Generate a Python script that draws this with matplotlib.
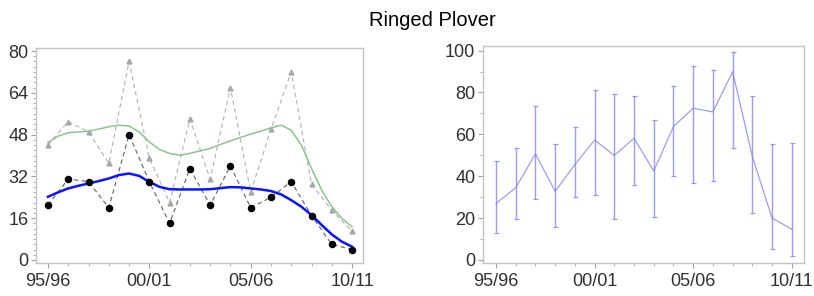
import matplotlib
matplotlib.use("Agg")
import matplotlib.pyplot as plt
from matplotlib.ticker import MultipleLocator, FixedLocator
import numpy as np

plt.rcParams['font.family'] = ['Liberation Sans', 'DejaVu Sans']

title = "Ringed Plover"
seasons = ["95/96", "96/97", "97/98", "98/99", "99/00", "00/01", "01/02", "02/03",
           "03/04", "04/05", "05/06", "06/07", "07/08", "08/09", "09/10", "10/11"]
tick_idx = [0, 5, 10, 15]

# Left panel: two count series (points) and their smoothed trends
counts_a = [21, 31, 30, 20, 48, 30, 14, 35, 21, 36, 20, 24, 30, 17, 6, 4]
counts_b = [44, 53, 49, 37, 76, 39, 22, 54, 31, 66, 26, 50, 72, 29, 19, 11]
smooth_pos = [i / 2 for i in range(31)]
smooth_b = [45.0, 47.4, 48.7, 49.0, 49.3, 50.1, 51.0, 51.6, 51.3, 49.0, 45.2, 42.3,
            40.8, 40.1, 40.8, 41.8, 42.7, 44.2, 45.6, 46.9, 48.2, 49.3, 50.6, 51.6,
            49.7, 44.0, 35.0, 26.8, 20.4, 15.9, 12.7]
smooth_a = [24.2, 25.9, 27.4, 28.4, 29.3, 30.2, 31.2, 32.5, 33.1, 32.2, 29.9, 28.0,
            27.1, 27.0, 27.0, 27.0, 27.1, 27.5, 27.9, 27.8, 27.4, 27.0, 26.4, 25.1,
            22.9, 20.4, 17.2, 13.4, 9.8, 7.0, 5.1]

# Right panel: index with confidence limits
index_mean = [27, 34.5, 50.7, 32.8, 45.6, 57.3, 49.9, 58.1, 42.5, 63.7, 72.5, 70.7,
              89.9, 49.5, 20, 14.7]
index_hi = [47.2, 53.3, 73.6, 55.2, 63.7, 81.1, 79.2, 78.1, 66.9, 82.9, 92.8, 90.9,
            99.5, 78.1, 55.2, 56]
index_lo = [12.8, 19.5, 29.1, 15.7, 30.1, 31.2, 19.5, 35.8, 20.5, 40, 36.8, 37.6,
            53.3, 22.4, 5.1, 1.9]

fig = plt.figure(figsize=(8.14, 2.96), dpi=100)
ax1 = fig.add_axes([36/814, 1-263/296, 327/814, 215/296])
ax2 = fig.add_axes([483/814, 1-262.5/296, 321/814, 216.5/296])

x = np.arange(len(seasons))
frame_col = '#c4c4c4'
txt_col = '#303030'

# Left
ax1.plot(x, counts_b, linestyle=(0, (4, 3)), color='#b0b0b0', lw=0.8, zorder=2)
ax1.plot(x, counts_b, linestyle='none', marker='^', ms=3.5, color='#a8a8a8', zorder=3)
ax1.plot(x, counts_a, linestyle=(0, (4, 3)), color='#606060', lw=0.8, zorder=2)
ax1.plot(x, counts_a, linestyle='none', marker='o', ms=4.4, color='black', zorder=4)
ax1.plot(smooth_pos, smooth_b, color='#8cc48c', lw=1.1, zorder=3)
ax1.plot(smooth_pos, smooth_a, color='#0a14ff', lw=1.8, zorder=3)
ax1.set_xlim(-0.59, 15.54)
ax1.set_ylim(-1.15, 81.15)
ax1.yaxis.set_major_locator(FixedLocator([0, 16, 32, 48, 64, 80]))
ax1.yaxis.set_minor_locator(MultipleLocator(2))

# Right
col = '#8484f2'
ax2.errorbar(x, index_mean, yerr=[np.array(index_mean) - np.array(index_lo),
                                  np.array(index_hi) - np.array(index_mean)],
             color=col, lw=0.9, elinewidth=1.0, capsize=1.8, capthick=0.9, alpha=0.8)
ax2.set_xlim(-0.66, 15.62)
ax2.set_ylim(-1.2, 102.2)
ax2.yaxis.set_major_locator(MultipleLocator(20))
ax2.yaxis.set_minor_locator(MultipleLocator(10))

for ax in (ax1, ax2):
    ax.set_xticks(tick_idx)
    ax.set_xticklabels([seasons[i] for i in tick_idx])
    ax.xaxis.set_minor_locator(MultipleLocator(1))
    for s in ax.spines.values():
        s.set_color(frame_col)
        s.set_linewidth(1.0)
    ax.tick_params(axis='both', which='major', length=3.5, width=0.8, color='#a0a0a0',
                   labelsize=13, labelcolor=txt_col, pad=2)
    ax.tick_params(axis='x', which='major', pad=4)
    ax.tick_params(axis='both', which='minor', length=2, width=0.7, color='#b0b0b0')

fig.text(432/814, 1-21/296, title, ha='center', va='center', fontsize=14.5, color='black')

fig.savefig("out.png", dpi=100)
